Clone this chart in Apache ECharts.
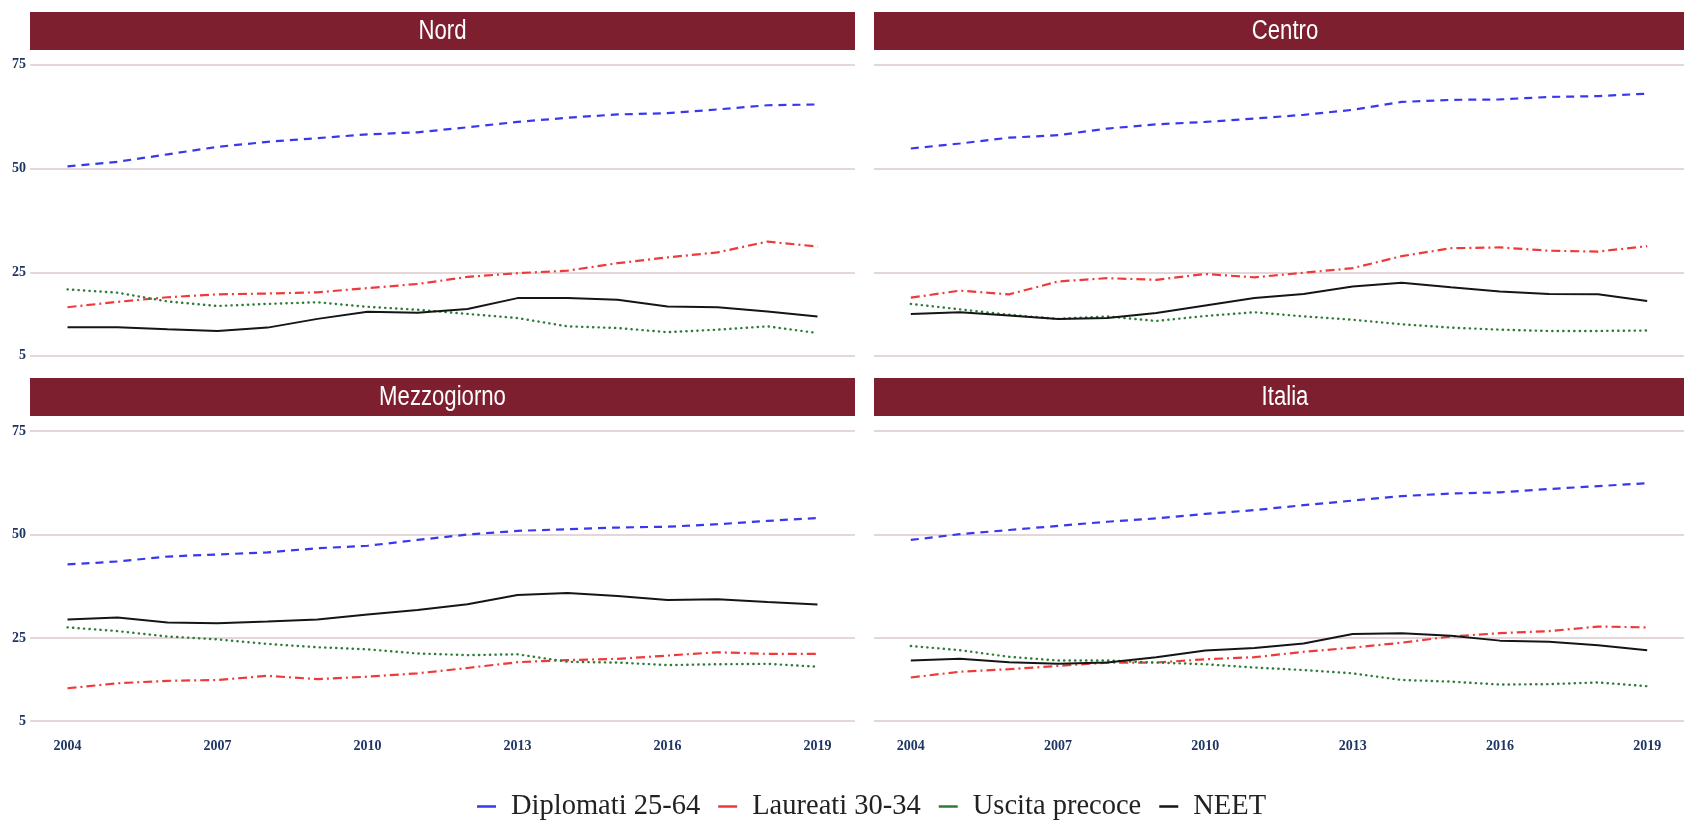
<!DOCTYPE html>
<html>
<head>
<meta charset="utf-8">
<script src="https://cdn.jsdelivr.net/npm/echarts@6/dist/echarts.min.js"></script>
<style>
html,body{margin:0;padding:0;background:#fff;}
#chart{width:1684px;height:821px;}
</style>
</head>
<body>
<div id="chart"></div>
<script>
// ---- data ----
const years = [2004,2005,2006,2007,2008,2009,2010,2011,2012,2013,2014,2015,2016,2017,2018,2019];
const panels = ['Nord','Centro','Mezzogiorno','Italia'];
const seriesNames = ['Diplomati 25-64','Laureati 30-34','Uscita precoce','NEET'];
const xTicks = [2004,2007,2010,2013,2016,2019];
const yTicks = [5,25,50,75];

const nordDiplomati = [50.5,51.6,53.4,55.2,56.4,57.3,58.2,58.7,59.9,61.2,62.2,63.0,63.3,64.2,65.2,65.4];
const nordLaureati  = [16.6,17.9,19.0,19.7,19.9,20.2,21.2,22.2,23.9,24.8,25.4,27.2,28.6,29.8,32.4,31.2];
const nordUscita    = [20.9,20.1,18.0,16.9,17.4,17.8,16.7,16.0,15.0,14.0,12.0,11.6,10.6,11.2,12.0,10.4];
const nordNeet      = [11.8,11.8,11.3,10.9,11.7,13.8,15.5,15.3,16.2,18.8,18.8,18.4,16.8,16.6,15.6,14.4];

const centroDiplomati = [54.8,56.0,57.4,58.0,59.6,60.6,61.2,62.0,62.9,64.1,66.0,66.5,66.6,67.2,67.4,68.0];
const centroLaureati  = [18.9,20.6,19.7,22.8,23.6,23.2,24.6,23.8,24.9,26.0,28.9,30.8,31.0,30.2,30.0,31.3];
const centroUscita    = [17.4,16.1,14.8,13.8,14.4,13.3,14.5,15.4,14.4,13.6,12.5,11.7,11.2,10.9,10.9,11.0];
const centroNeet      = [15.0,15.4,14.6,13.8,14.0,15.2,17.0,18.8,19.8,21.6,22.5,21.4,20.4,19.8,19.7,18.1];

const mezzoDiplomati = [42.8,43.5,44.7,45.2,45.7,46.7,47.3,48.7,50.0,50.9,51.3,51.7,51.9,52.5,53.3,54.0];
const mezzoLaureati  = [12.9,14.1,14.7,14.9,15.9,15.1,15.7,16.5,17.8,19.2,19.7,20.0,20.8,21.6,21.2,21.2];
const mezzoUscita    = [27.6,26.7,25.4,24.7,23.6,22.8,22.3,21.3,20.9,21.1,19.3,19.1,18.5,18.7,18.8,18.1];
const mezzoNeet      = [29.5,30.0,28.8,28.6,29.0,29.5,30.7,31.8,33.2,35.4,35.9,35.2,34.2,34.4,33.7,33.1];

const italiaDiplomati = [48.7,50.1,51.1,52.1,53.1,53.9,55.0,55.9,57.1,58.2,59.3,59.9,60.2,61.0,61.7,62.4];
const italiaLaureati  = [15.5,16.9,17.5,18.3,19.1,19.1,19.9,20.4,21.7,22.7,23.9,25.4,26.2,26.7,27.8,27.6];
const italiaUscita    = [23.1,22.1,20.5,19.6,19.6,19.1,18.7,17.9,17.3,16.5,14.9,14.5,13.8,13.9,14.3,13.4];
const italiaNeet      = [19.6,20.0,19.2,18.8,19.1,20.4,22.0,22.6,23.7,26.0,26.2,25.6,24.4,24.1,23.3,22.1];

const panelData = [
  [nordDiplomati, nordLaureati, nordUscita, nordNeet],
  [centroDiplomati, centroLaureati, centroUscita, centroNeet],
  [mezzoDiplomati, mezzoLaureati, mezzoUscita, mezzoNeet],
  [italiaDiplomati, italiaLaureati, italiaUscita, italiaNeet]
];

// ---- styles ----
const colors = ['#3838ef','#f03a3a','#2e7d36','#151515'];
const dashes = [[8,6],[9,4,2,4],[0.3,5.2],'solid'];
const stripColor = '#7e1f2f';
const gridColor = '#dcc8ce';
const tickColor = '#1f3563';

const boxes = [
  {left:30,  top:50,    width:825, height:320},
  {left:874, top:50,    width:822, height:320},
  {left:30,  top:416.5, width:825, height:319},
  {left:874, top:416.5, width:822, height:319}
];
const strips = [
  {x:30,  y:12,  w:825, h:38},
  {x:874, y:12,  w:822, h:38},
  {x:30,  y:378, w:825, h:38},
  {x:874, y:378, w:822, h:38}
];

const grids = boxes.map(b => ({left:b.left, top:b.top, width:b.width, height:b.height, containLabel:false}));
const xAxes = boxes.map((b,i) => ({
  type:'value', gridIndex:i, min:2003.25, max:2019.75,
  axisLine:{show:false}, splitLine:{show:false},
  axisTick:{show:false, customValues:xTicks},
  axisLabel:{show:i>=2, customValues:xTicks, margin:4,
    fontFamily:'Liberation Serif', fontWeight:'bold', fontSize:14, color:tickColor,
    formatter: v => String(v)}
}));
const yAxes = boxes.map((b,i) => ({
  type:'value', gridIndex:i, min:1.5, max:78.5,
  axisLine:{show:false},
  axisTick:{show:false, customValues:yTicks},
  splitLine:{show:true, lineStyle:{color:gridColor, width:1.6}},
  axisLabel:{show:i%2===0, customValues:yTicks, margin:4,
    fontFamily:'Liberation Serif', fontWeight:'bold', fontSize:14, color:tickColor,
    formatter: v => String(v)}
}));

const series = [];
panelData.forEach((arrs,p) => {
  arrs.forEach((vals,m) => {
    series.push({
      type:'line', name:seriesNames[m], xAxisIndex:p, yAxisIndex:p,
      data: years.map((y,k) => [y, vals[k]]),
      symbol:'none', showSymbol:false, silent:true, animation:false,
      color: colors[m],
      lineStyle:{color:colors[m], width: m===3 ? 2 : (m===2 ? 2.4 : 2.2), type:dashes[m], cap: m===2 ? 'round':'butt'},
      z: 3
    });
  });
});

const graphic = [];
strips.forEach((s,i) => {
  graphic.push({type:'rect', shape:{x:s.x, y:s.y, width:s.w, height:s.h}, style:{fill:stripColor}, z:10});
  graphic.push({type:'text', x:s.x + s.w/2, y:s.y + s.h/2 + 1, scaleX:0.82, z:11,
    style:{text:panels[i], fill:'#ffffff', fontSize:27, fontFamily:'Liberation Sans',
      align:'center', verticalAlign:'middle'}});
});

const chart = echarts.init(document.getElementById('chart'), null, {renderer:'canvas'});
chart.setOption({
  animation:false,
  backgroundColor:'#ffffff',
  grid: grids,
  xAxis: xAxes,
  yAxis: yAxes,
  legend: {
    data: seriesNames, left:472, top:787,
    icon:'rect', itemWidth:19, itemHeight:2.5, itemGap:18,
    textStyle:{fontFamily:'Liberation Serif', fontSize:28.5, color:'#222', padding:[0,0,0,10]}
  },
  graphic: graphic,
  series: series
});
</script>
</body>
</html>
